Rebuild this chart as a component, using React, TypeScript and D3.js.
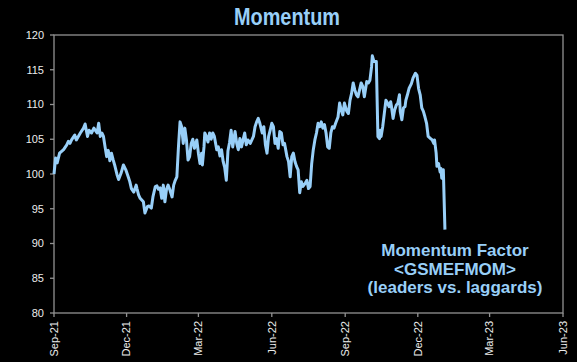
import React from 'react';
import * as d3 from 'd3';

// momentum factor
const dates: string[] = [
  '2021-09-01', '2021-09-03', '2021-09-05', '2021-09-08', '2021-09-13', '2021-09-17', '2021-09-19', '2021-09-21',
  '2021-09-23', '2021-09-27', '2021-09-29', '2021-10-04', '2021-10-08', '2021-10-10', '2021-10-13', '2021-10-15',
  '2021-10-18', '2021-10-21', '2021-10-25', '2021-10-27', '2021-10-29', '2021-10-31', '2021-11-02', '2021-11-04',
  '2021-11-06', '2021-11-08', '2021-11-10', '2021-11-12', '2021-11-14', '2021-11-16', '2021-11-19', '2021-11-21',
  '2021-11-24', '2021-11-27', '2021-11-30', '2021-12-03', '2021-12-05', '2021-12-07', '2021-12-10', '2021-12-13',
  '2021-12-14', '2021-12-16', '2021-12-18', '2021-12-22', '2021-12-24', '2021-12-27', '2021-12-29', '2021-12-30',
  '2022-01-01', '2022-01-03', '2022-01-06', '2022-01-08', '2022-01-10', '2022-01-12', '2022-01-14', '2022-01-16',
  '2022-01-18', '2022-01-20', '2022-01-22', '2022-01-24', '2022-01-27', '2022-01-29', '2022-01-31', '2022-02-02',
  '2022-02-04', '2022-02-06', '2022-02-08', '2022-02-10', '2022-02-12', '2022-02-14', '2022-02-16', '2022-02-18',
  '2022-02-20', '2022-02-22', '2022-02-24', '2022-02-27', '2022-03-01', '2022-03-03', '2022-03-05', '2022-03-06',
  '2022-03-08', '2022-03-09', '2022-03-11', '2022-03-13', '2022-03-15', '2022-03-17', '2022-03-19', '2022-03-21',
  '2022-03-24', '2022-03-26', '2022-03-28', '2022-03-30', '2022-04-01', '2022-04-03', '2022-04-05', '2022-04-07',
  '2022-04-09', '2022-04-11', '2022-04-13', '2022-04-16', '2022-04-18', '2022-04-20', '2022-04-22', '2022-04-24',
  '2022-04-26', '2022-04-28', '2022-04-30', '2022-05-02', '2022-05-05', '2022-05-07', '2022-05-09', '2022-05-11',
  '2022-05-13', '2022-05-15', '2022-05-17', '2022-05-20', '2022-05-22', '2022-05-24', '2022-05-26', '2022-05-28',
  '2022-05-30', '2022-06-01', '2022-06-03', '2022-06-05', '2022-06-07', '2022-06-09', '2022-06-11', '2022-06-13',
  '2022-06-15', '2022-06-17', '2022-06-20', '2022-06-22', '2022-06-24', '2022-06-26', '2022-06-28', '2022-06-30',
  '2022-07-02', '2022-07-04', '2022-07-06', '2022-07-08', '2022-07-10', '2022-07-13', '2022-07-15', '2022-07-17',
  '2022-07-19', '2022-07-21', '2022-07-23', '2022-07-25', '2022-07-27', '2022-07-29', '2022-07-31', '2022-08-02',
  '2022-08-04', '2022-08-06', '2022-08-08', '2022-08-10', '2022-08-12', '2022-08-14', '2022-08-16', '2022-08-18',
  '2022-08-20', '2022-08-23', '2022-08-25', '2022-08-27', '2022-08-29', '2022-08-31', '2022-09-03', '2022-09-05',
  '2022-09-07', '2022-09-09', '2022-09-11', '2022-09-13', '2022-09-15', '2022-09-17', '2022-09-19', '2022-09-21',
  '2022-09-23', '2022-09-25', '2022-09-28', '2022-09-30', '2022-10-02', '2022-10-04', '2022-10-05', '2022-10-07',
  '2022-10-10', '2022-10-12', '2022-10-14', '2022-10-15', '2022-10-16', '2022-10-18', '2022-10-20', '2022-10-22',
  '2022-10-24', '2022-10-26', '2022-10-28', '2022-10-29', '2022-10-31', '2022-11-02', '2022-11-04', '2022-11-06',
  '2022-11-08', '2022-11-09', '2022-11-11', '2022-11-13', '2022-11-15', '2022-11-16', '2022-11-18', '2022-11-20',
  '2022-11-23', '2022-11-25', '2022-11-28', '2022-11-30', '2022-12-02', '2022-12-04', '2022-12-06', '2022-12-08',
  '2022-12-10', '2022-12-12', '2022-12-14', '2022-12-17', '2022-12-19', '2022-12-21', '2022-12-22', '2022-12-24',
  '2022-12-25', '2022-12-27', '2022-12-29', '2022-12-30', '2022-12-31', '2023-01-02', '2023-01-04',
];

const momentum: number[] = [
  100.0, 102.3, 101.6, 103.0, 103.5, 104.2, 104.7, 104.4,
  104.9, 105.6, 104.9, 105.9, 106.6, 107.2, 105.4, 106.3,
  105.9, 106.6, 105.9, 107.3, 105.4, 105.9, 105.4, 103.9,
  102.5, 103.4, 101.9, 103.0, 102.1, 101.3, 99.9, 99.2,
  100.1, 101.3, 100.6, 99.6, 98.9, 97.9, 97.4, 98.4,
  97.9, 97.0, 96.5, 96.0, 94.4, 95.3, 95.4, 95.3,
  95.1, 96.7, 98.2, 98.3, 97.8, 98.0, 96.5, 98.4,
  96.0, 97.8, 98.4, 97.8, 96.7, 98.4, 99.1, 99.6,
  103.9, 107.5, 106.8, 104.4, 106.6, 104.9, 102.0, 102.5,
  104.4, 105.0, 103.7, 104.9, 103.0, 101.5, 103.0, 101.3,
  103.9, 105.9, 105.4, 104.6, 105.9, 105.0, 105.9, 105.4,
  103.5, 103.9, 102.6, 103.5, 101.8, 100.9, 99.1, 103.3,
  104.5, 106.3, 103.9, 106.1, 104.4, 103.5, 105.1, 103.9,
  104.9, 105.9, 104.2, 104.9, 104.4, 104.9, 105.4, 106.8,
  107.5, 108.0, 107.3, 105.9, 106.8, 104.2, 103.0, 105.4,
  106.3, 107.3, 106.8, 104.4, 105.1, 103.7, 106.1, 105.9,
  104.2, 104.4, 102.5, 101.8, 99.6, 102.5, 103.0, 101.8,
  101.1, 100.6, 97.3, 98.9, 98.2, 98.7, 99.1, 97.9,
  98.2, 101.5, 103.5, 104.9, 105.9, 107.3, 106.8, 107.5,
  106.6, 107.1, 105.9, 103.9, 103.7, 105.9, 106.8, 106.6,
  107.3, 108.2, 110.2, 109.2, 108.5, 110.2, 109.0, 108.7,
  110.6, 111.6, 113.1, 112.1, 111.4, 111.1, 112.1, 113.1,
  112.6, 111.1, 113.3, 113.1, 113.5, 115.4, 117.0, 116.2,
  116.2, 105.4, 105.1, 106.3, 105.4, 106.8, 108.7, 110.6,
  110.2, 109.7, 110.4, 109.7, 108.0, 109.2, 109.9, 110.2,
  111.4, 109.0, 107.8, 109.5, 109.7, 110.6, 111.4, 112.3,
  113.0, 113.8, 114.5, 114.2, 112.3, 111.4, 109.5, 109.0,
  108.2, 107.3, 105.4, 105.1, 104.9, 104.4, 104.9, 103.0,
  101.1, 101.5, 100.3, 100.8, 99.4, 100.6, 92.0,
];

const yTicks: number[] = [80, 85, 90, 95, 100, 105, 110, 115, 120];
const xTicks: string[] = ['2021-09-01', '2021-12-01', '2022-03-01', '2022-06-01', '2022-09-01', '2022-12-01', '2023-03-01', '2023-06-01'];
const noteLines: string[] = ['Momentum Factor', '<GSMEFMOM>', '(leaders vs. laggards)'];

const W = 577;
const H = 362;
const margin = { top: 35, right: 14, bottom: 49, left: 54 };
const BLUE = '#98cff8';
const FONT = '"Liberation Sans", Arial, sans-serif';

const parse = d3.timeParse('%Y-%m-%d');
const fmt = d3.timeFormat('%b-%y');

export default function App() {
  const x = d3.scaleTime()
    .domain([parse(xTicks[0])!, parse(xTicks[xTicks.length - 1])!])
    .range([margin.left, W - margin.right]);
  const y = d3.scaleLinear().domain([80, 120]).range([H - margin.bottom, margin.top]);

  const points = dates.map((d, i) => ({ date: parse(d)!, v: momentum[i] }));
  const line = d3.line<{ date: Date; v: number }>()
    .x(d => x(d.date))
    .y(d => y(d.v));

  const x0 = margin.left;
  const x1 = W - margin.right;
  const y0 = H - margin.bottom;
  const y1 = margin.top;

  return (
    <div style={{ position: 'absolute', left: 0, top: 0, width: W, height: H, background: '#000' }}>
      <svg width={W} height={H} style={{ display: 'block' }}>
        <rect x={0} y={0} width={W} height={H} fill="#000" />
        <text x={287} y={25} textAnchor="middle" fill={BLUE} fontFamily={FONT} fontWeight="bold"
          fontSize={23} textLength={106} lengthAdjust="spacingAndGlyphs">Momentum</text>

        {/* frame */}
        <rect x={x0} y={y1} width={x1 - x0} height={y0 - y1} fill="none" stroke="#929292" strokeWidth={1.3} />

        {/* y axis */}
        {yTicks.map(t => (
          <g key={t}>
            <line x1={x0 - 4} x2={x0} y1={y(t)} y2={y(t)} stroke="#929292" strokeWidth={1.3} />
            <text x={x0 - 10} y={y(t)} dy="0.35em" textAnchor="end" fill="#ececec" fontFamily={FONT} fontSize={11}>{t}</text>
          </g>
        ))}

        {/* x axis */}
        {xTicks.map(t => {
          const px = x(parse(t)!);
          return (
            <g key={t}>
              <line x1={px} x2={px} y1={y0} y2={y0 + 4} stroke="#929292" strokeWidth={1.3} />
              <text transform={`translate(${px},${y0 + 8}) rotate(-90)`} dy="0.35em" textAnchor="end"
                fill="#ececec" fontFamily={FONT} fontSize={11}>{fmt(parse(t)!)}</text>
            </g>
          );
        })}

        <path d={line(points) || ''} fill="none" stroke={BLUE} strokeWidth={3} strokeLinejoin="round" />

        {noteLines.map((s, i) => (
          <text key={s} x={455} y={256 + i * 18.7} textAnchor="middle" fill={BLUE} fontFamily={FONT}
            fontWeight="bold" fontSize={17}>{s}</text>
        ))}
      </svg>
    </div>
  );
}
